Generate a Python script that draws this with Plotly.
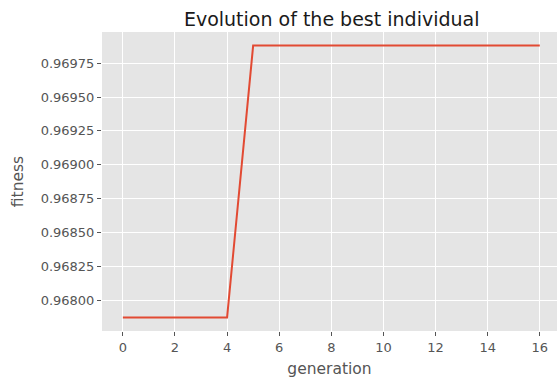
import plotly.graph_objects as go

generation = list(range(17))
fitness = [0.967872, 0.967872, 0.967872, 0.967872, 0.967872,
           0.96988, 0.96988, 0.96988, 0.96988, 0.96988, 0.96988,
           0.96988, 0.96988, 0.96988, 0.96988, 0.96988, 0.96988]
y_ticks = [0.968, 0.96825, 0.9685, 0.96875, 0.969, 0.96925, 0.9695, 0.96975]
x_ticks = [0, 2, 4, 6, 8, 10, 12, 14, 16]

FONT = "DejaVu Sans"
GRAY = "#555555"

fig = go.Figure()
fig.add_trace(go.Scatter(x=generation, y=fitness, mode="lines",
                         line=dict(color="#E24A33", width=2), showlegend=False))

fig.update_layout(
    width=557, height=381,
    margin=dict(l=102, r=0, t=32, b=50, autoexpand=False),
    paper_bgcolor="white", plot_bgcolor="#E5E5E5",
    font=dict(family=FONT, color=GRAY, size=13),
    title=dict(text="Evolution of the best individual", x=331.7/557, xanchor="center",
               xref="container", y=1 - 25.5/381, yref="container", yanchor="bottom",
               font=dict(family=FONT, size=19, color="#1a1a1a")),
)
fig.update_xaxes(range=[-0.8, 16.66], tickvals=x_ticks, ticktext=[str(v) for v in x_ticks],
                 automargin=False,
                 showgrid=True, gridcolor="white", gridwidth=1, zeroline=False,
                 showline=False, ticks="outside", ticklen=4, tickcolor=GRAY, tickwidth=1,
                 tickfont=dict(size=13, color=GRAY),
                 title=dict(text="generation", font=dict(size=15.5, color=GRAY), standoff=9))
fig.update_yaxes(range=[0.967772, 0.96998], tickvals=y_ticks,
                 ticktext=["%.5f" % v for v in y_ticks], automargin=False,
                 showgrid=True, gridcolor="white", gridwidth=1, zeroline=False,
                 showline=False, ticks="outside", ticklen=4, tickcolor=GRAY, tickwidth=1,
                 tickfont=dict(size=13, color=GRAY),
                 title=dict(text="fitness", font=dict(size=15.5, color=GRAY), standoff=13))

fig.write_html("out.html", config={"displayModeBar": False},
               post_script="document.body.style.margin='0px';")
